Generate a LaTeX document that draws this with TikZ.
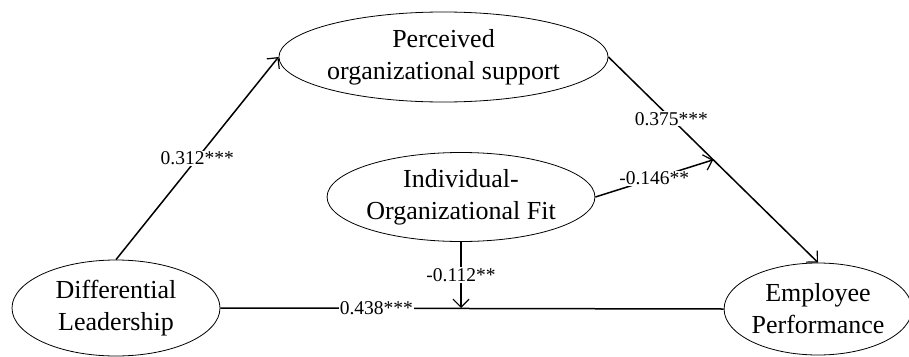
\documentclass[tikz,border=0pt]{standalone}
\usepackage{fontspec}
\setmainfont{Liberation Serif}
\usetikzlibrary{shapes.geometric,arrows.meta,calc}

\begin{document}
\begin{tikzpicture}[
  x=1pt, y=-1pt,
  var/.style={ellipse, draw, line width=0.8pt, align=center, inner sep=0pt,
    font=\fontsize{26}{32}\selectfont},
  effect/.style={-{Straight Barb[length=8pt,width=16pt,line width=1.2pt]},
    line width=1.5pt},
  direct/.style={line width=1.5pt},
  coef/.style={fill=white, inner sep=1pt, font=\fontsize{19.5}{22}\selectfont},
]
\useasboundingbox (0,0) rectangle (909,356);

% ---- latent variables ---------------------------------------------------
\node[var, minimum width=311pt, minimum height=90pt] (support) at (443.5,57)
  {Perceived\\ organizational support};
\node[var, minimum width=242pt, minimum height=89pt] (fit) at (461,197)
  {Individual-\\ Organizational Fit};
\node[var, minimum width=208pt, minimum height=96pt] (lead) at (116,308)
  {Differential\\ Leadership};
\node[var, minimum width=180pt, minimum height=92pt] (perf) at (818,309)
  {Employee\\ Performance};

% ---- mediation and direct paths -----------------------------------------
\draw[effect] (lead.north) -- node[coef] {0.312***} (support.west);
\draw[effect] (support.east) -- node[coef, pos=0.3] {0.375***} (perf.north);
\draw[direct] (lead.east) -- node[coef, pos=0.31] {0.438***} (perf.west);

% ---- moderation: the fit points at the paths it moderates ---------------
\coordinate (onmed) at ($(support.east)!0.5!(perf.north)$);
\coordinate (ondirect) at (fit.south |- lead.east);
\draw[effect] (fit.east) -- node[coef] {-0.146**} (onmed);
\draw[effect] (fit.south) -- node[coef] {-0.112**} (ondirect);

\end{tikzpicture}
\end{document}
